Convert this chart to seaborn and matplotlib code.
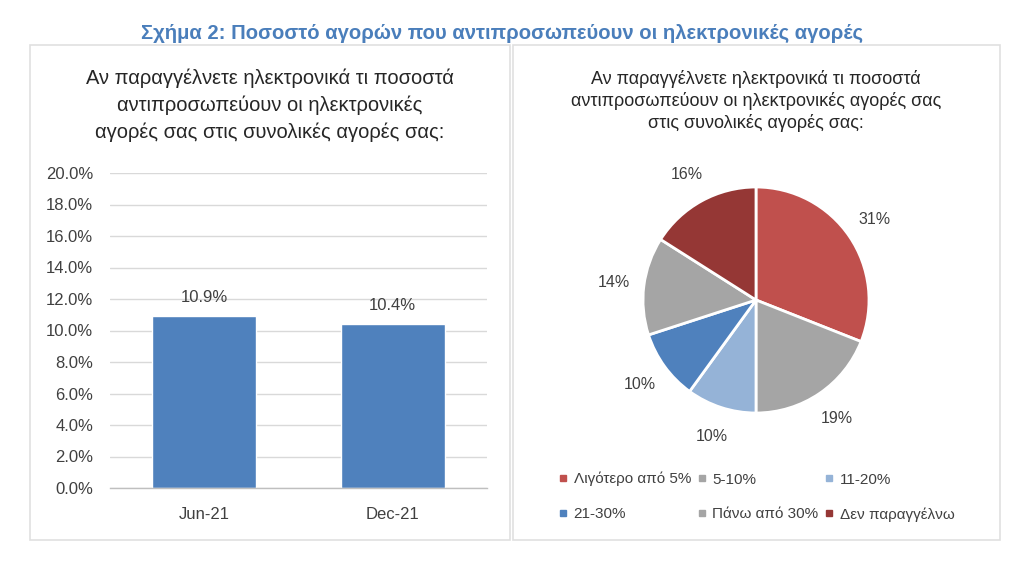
import matplotlib
matplotlib.use("Agg")
import matplotlib.pyplot as plt
import seaborn as sns
import pandas as pd
from matplotlib.patches import Rectangle
from matplotlib.lines import Line2D
from matplotlib.ticker import PercentFormatter, FixedLocator

# ---- data ----
periods = ["Jun-21", "Dec-21"]
online_share = [0.109, 0.104]

pie_categories = ["Λιγότερο από 5%", "5-10%", "11-20%", "21-30%", "Πάνω από 30%", "Δεν παραγγέλνω"]
pie_values = [31, 19, 10, 10, 14, 16]
pie_colors = ["#C0504D", "#A5A5A5", "#95B3D7", "#4F81BD", "#A5A5A5", "#953735"]

main_title = "Σχήμα 2: Ποσοστό αγορών που αντιπροσωπεύουν οι ηλεκτρονικές αγορές"
left_title = "Αν παραγγέλνετε ηλεκτρονικά τι ποσοστά\nαντιπροσωπεύουν οι ηλεκτρονικές\nαγορές σας στις συνολικές αγορές σας:"
right_title = "Αν παραγγέλνετε ηλεκτρονικά τι ποσοστά\nαντιπροσωπεύουν οι ηλεκτρονικές αγορές σας\nστις συνολικές αγορές σας:"

sns.set_theme(style="white")
plt.rcParams['font.family'] = ['Liberation Sans', 'DejaVu Sans']

W, H = 1024, 568
fig = plt.figure(figsize=(W / 100, H / 100), dpi=100)
fig.patch.set_facecolor("white")

def fx(x):
    return x / W

def fy(y):
    return 1 - y / H

# panel borders
for (x0, x1) in [(30, 510), (513, 1000)]:
    fig.add_artist(Rectangle((fx(x0), fy(540)), fx(x1 - x0), (540 - 45) / H,
                             transform=fig.transFigure, fill=False,
                             edgecolor="#E0E0E0", linewidth=1.2))

# main title
fig.text(fx(502), fy(33), main_title, ha="center", va="center", color="#4A7EBB",
         fontsize=14.6, fontweight="bold",
         family=['Liberation Sans Narrow', 'Liberation Sans', 'DejaVu Sans'])

# ---- bar chart ----
ax = fig.add_axes([fx(110), fy(488), fx(487 - 110), (488 - 173) / H])
df = pd.DataFrame({"period": periods, "share": online_share})
sns.barplot(data=df, x="period", y="share", color="#4F81BD", width=0.55,
            saturation=1, ax=ax)
ax.set_ylim(0, 0.2)
ax.set_xlim(-0.5, 1.5)
ax.yaxis.set_major_locator(FixedLocator([i * 0.02 for i in range(11)]))
ax.yaxis.set_major_formatter(PercentFormatter(1.0, decimals=1))
ax.grid(axis="y", color="#D9D9D9", linewidth=1)
ax.set_axisbelow(True)
for s in ["top", "right", "left"]:
    ax.spines[s].set_visible(False)
ax.spines["bottom"].set_color("#BFBFBF")
ax.spines["bottom"].set_linewidth(1)
ax.set_xlabel("")
ax.set_ylabel("")
ax.tick_params(axis="y", length=0, pad=12, labelsize=12, labelcolor="#404040")
ax.tick_params(axis="x", which="major", length=0, pad=14, labelsize=12, labelcolor="#404040")
ax.set_xticks([-0.5, 0.5, 1.5], minor=True)
ax.tick_params(axis="x", which="minor", length=5, color="#BFBFBF", direction="out")
ax.bar_label(ax.containers[0], labels=[f"{v * 100:.1f}%" for v in online_share],
             padding=8, fontsize=12, color="#404040")

fig.text(fx(270), fy(105), left_title, ha="center", va="center", fontsize=14.5,
         color="#262626", linespacing=1.47)

# ---- pie chart ----
r = 113
pax = fig.add_axes([fx(756 - r), fy(300 + r), fx(2 * r), 2 * r / H])
wedges, texts, autotexts = pax.pie(pie_values, colors=pie_colors, startangle=90,
                                   counterclock=False, radius=1,
                                   autopct=lambda p: f"{p:.0f}%", pctdistance=1.27,
                                   wedgeprops=dict(edgecolor="white", linewidth=2),
                                   textprops=dict(fontsize=11.5, color="#404040"))
pax.set_xlim(-1, 1)
pax.set_ylim(-1, 1)
pax.set_aspect("equal")
pax.axis("off")

fig.text(fx(756), fy(101), right_title, ha="center", va="center", fontsize=13,
         color="#262626", linespacing=1.3)

# legend (matplotlib fills column-wise; reorder so rows read as in the reference)
handles = [Line2D([], [], linestyle="none", marker="s", markersize=5,
                  markerfacecolor=c, markeredgecolor=c) for c in pie_colors]
order = [0, 3, 1, 4, 2, 5]
fig.legend([handles[i] for i in order], [pie_categories[i] for i in order],
           ncol=3, loc="upper left", bbox_to_anchor=(fx(559), fy(472)),
           frameon=False, fontsize=11, handlelength=0.5, handletextpad=0.45,
           columnspacing=0.45, labelspacing=1.35, labelcolor="#404040",
           borderaxespad=0, borderpad=0)

fig.savefig("out.png", dpi=100, facecolor="white")
